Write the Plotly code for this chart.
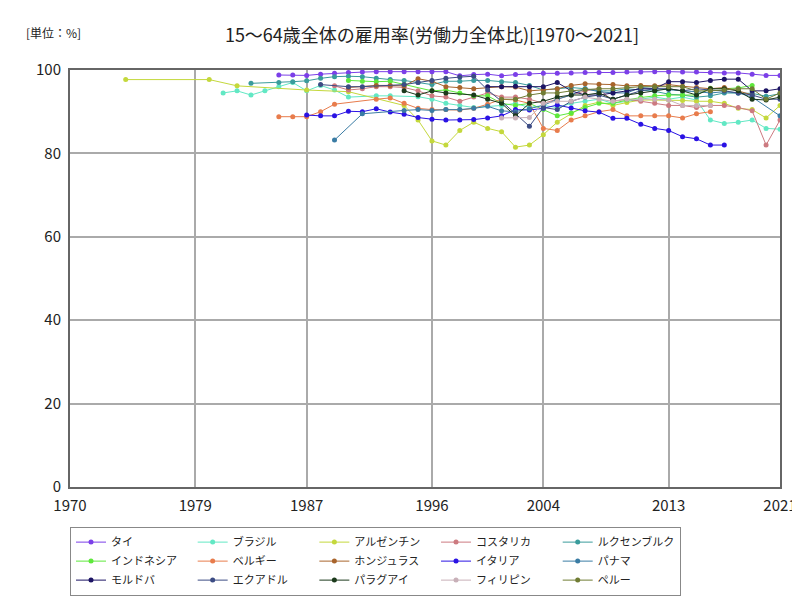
import plotly.graph_objects as go

# 15-64 employment rate (% of labour force)
thai_years = list(range(1985, 2022))
thai_vals = [98.8, 98.8, 98.7, 99.0, 99.2, 99.4, 99.5, 99.6, 99.6, 99.6, 99.6, 99.6, 99.6, 98.6, 98.9, 99.0, 98.6, 98.9,
             99.1, 99.2, 99.2, 99.3, 99.4, 99.4, 99.4, 99.5, 99.5, 99.6, 99.6, 99.5, 99.5, 99.4, 99.3, 99.3, 99.0, 98.7, 98.7]

brazil_years = [1981, 1982, 1983, 1984, 1985, 1986, 1987, 1988, 1989, 1990, 1992, 1993, 1995, 1996, 1997, 1998, 1999,
                2001, 2002, 2003, 2004, 2005, 2006, 2007, 2008, 2009, 2011, 2012, 2013, 2014, 2015, 2016, 2017, 2018, 2019, 2020, 2021]
brazil_vals = [94.5, 95.0, 94.0, 95.0, 96.0, 97.0, 95.0, 96.3, 95.2, 93.5, 93.8, 93.8, 93.6, 93.0, 92.0, 91.5, 91.0,
               91.5, 92.0, 91.0, 91.5, 91.0, 92.0, 92.5, 93.0, 92.0, 93.0, 93.5, 93.0, 93.5, 92.8, 88.0, 87.2, 87.5, 88.0, 86.0, 85.8]

argentina_years = [1974, 1980, 1982, 1987, 1990, 1994, 1995, 1996, 1997, 1998, 1999, 2000, 2001, 2002, 2003, 2004, 2005,
                   2006, 2007, 2008, 2009, 2010, 2011, 2012, 2013, 2014, 2015, 2016, 2017, 2018, 2019, 2020, 2021]
argentina_vals = [97.7, 97.7, 96.2, 95.2, 94.8, 91.5, 88.0, 83.0, 82.0, 85.5, 87.5, 86.0, 85.2, 81.5, 82.0, 84.5, 87.5,
                  89.5, 91.5, 92.3, 91.5, 92.2, 92.8, 92.8, 92.8, 92.7, 92.5, 92.5, 92.0, 90.8, 90.5, 88.5, 91.5]

costa_years = [1989, 1990, 1991, 1992, 1993, 1994, 1995, 1996, 1997, 1998, 1999, 2000, 2001, 2002, 2003, 2004, 2005, 2006,
               2007, 2008, 2009, 2010, 2011, 2012, 2013, 2014, 2015, 2016, 2017, 2018, 2019, 2020, 2021]
costa_vals = [96.2, 95.2, 95.5, 96.0, 96.0, 95.8, 95.0, 93.8, 93.5, 92.5, 93.5, 94.5, 93.5, 93.5, 93.0, 92.0, 93.0, 94.0,
              95.0, 95.5, 92.5, 93.0, 92.5, 92.0, 91.5, 91.5, 91.0, 91.5, 91.5, 91.0, 90.2, 82.0, 88.0]

lux_years = [1983, 1985, 1986, 1987, 1988, 1989, 1990, 1991, 1992, 1993, 1994, 1995, 1996, 1997, 1998, 1999, 2000,
             2001, 2002, 2003, 2004, 2005, 2006, 2007, 2008, 2009, 2010, 2011, 2012, 2013, 2014, 2015, 2016, 2017,
             2018, 2019, 2020, 2021]
lux_vals = [96.8, 97.0, 97.2, 97.4, 98.0, 98.4, 98.5, 98.4, 98.0, 97.7, 97.5, 97.0, 96.5, 97.3, 97.3, 97.5, 97.5,
            97.2, 97.0, 96.3, 95.2, 95.5, 95.8, 95.5, 95.0, 95.0, 95.5, 95.2, 94.9, 94.2, 94.0, 93.5, 93.8, 94.5,
            94.5, 94.4, 93.7, 94.3]

indo_years = [1990, 1991, 1992, 1993, 1994, 1996, 1997, 1998, 1999, 2000, 2001, 2002, 2003, 2004, 2005, 2006, 2007,
              2008, 2009, 2010, 2011, 2012, 2013, 2014, 2015, 2016, 2017, 2018, 2019]
indo_vals = [97.5, 97.3, 97.2, 97.3, 96.5, 95.0, 95.2, 94.5, 93.8, 93.8, 92.0, 91.5, 92.0, 90.5, 89.0, 89.7, 91.0,
             92.0, 92.0, 92.8, 93.4, 93.8, 94.0, 94.0, 94.0, 95.6, 95.5, 95.7, 96.3]

belgium_years = [1985, 1986, 1987, 1988, 1989, 1992, 1993, 1994, 1995, 1996, 1997, 1998, 1999, 2000, 2001, 2002, 2003,
                 2004, 2005, 2006, 2007, 2008, 2009, 2010, 2011, 2012, 2013, 2014, 2015, 2016]
belgium_vals = [88.8, 88.8, 88.8, 90.0, 91.8, 93.0, 93.3, 92.0, 90.8, 90.5, 90.5, 90.4, 90.8, 91.8, 93.0, 92.8, 92.0,
                86.0, 85.5, 88.0, 89.0, 90.0, 90.5, 89.0, 89.0, 89.0, 89.0, 88.5, 89.5, 90.0]

honduras_years = [1990, 1992, 1993, 1994, 1995, 1996, 1997, 1998, 1999, 2001, 2002, 2003, 2004, 2005, 2006, 2007,
                  2008, 2009, 2010, 2011, 2012, 2013, 2014, 2015, 2016, 2017, 2018, 2019]
honduras_vals = [95.8, 96.3, 96.3, 96.2, 97.9, 97.3, 96.0, 95.8, 95.5, 96.0, 95.9, 95.0, 95.2, 95.5, 96.3, 96.7,
                 96.6, 96.5, 96.2, 96.3, 96.2, 96.5, 96.1, 95.8, 95.5, 95.8, 95.0, 94.0]

italy_years = list(range(1987, 2018))
italy_vals = [89.2, 89.0, 89.0, 90.1, 90.0, 90.7, 89.9, 89.4, 88.6, 88.2, 88.0, 88.0, 88.1, 88.5, 89.0, 90.5, 90.4,
              90.8, 91.6, 90.9, 90.2, 89.9, 88.4, 88.4, 87.0, 86.0, 85.5, 84.0, 83.5, 82.0, 82.0]

panama_years = [1989, 1991, 1994, 1995, 1996, 1997, 1998, 1999, 2000, 2001, 2002, 2003, 2004, 2005, 2006, 2007, 2008,
                2009, 2010, 2011, 2012, 2013, 2014, 2015, 2016, 2017, 2018, 2019, 2021]
panama_vals = [83.2, 89.5, 90.3, 90.5, 90.3, 90.5, 90.5, 90.8, 91.3, 90.2, 90.0, 90.7, 91.5, 93.0, 94.0, 95.5, 94.8,
               94.5, 94.5, 95.8, 95.5, 95.3, 95.0, 94.8, 94.5, 94.8, 94.5, 93.5, 89.0]

moldova_years = list(range(2000, 2022))
moldova_vals = [96.0, 96.0, 96.1, 96.0, 96.0, 97.0, 95.0, 94.0, 94.0, 94.5, 95.0, 95.5, 95.5, 97.2, 97.2, 97.0, 97.5,
                97.8, 97.8, 95.0, 95.0, 95.5]

ecuador_years = [1988, 1990, 1991, 1994, 1995, 1996, 1997, 1998, 1999, 2000, 2001, 2002, 2003, 2004, 2005, 2006,
                 2007, 2008, 2009, 2010, 2011, 2012, 2013, 2014, 2015, 2016, 2017, 2018, 2019, 2020, 2021]
ecuador_vals = [96.5, 96.0, 96.0, 96.5, 97.0, 97.5, 98.0, 98.3, 98.5, 95.2, 92.5, 89.5, 86.5, 91.0, 90.5, 92.5,
                93.5, 94.0, 93.0, 94.0, 95.0, 95.5, 95.5, 95.0, 95.5, 95.2, 95.0, 94.5, 94.0, 93.0, 93.0]

paraguay_years = [1994, 1995, 1996, 1997, 1999, 2000, 2001, 2002, 2003, 2004, 2005, 2006, 2007, 2008, 2009, 2010,
                  2011, 2012, 2013, 2014, 2015, 2016, 2017, 2018, 2019, 2020, 2021]
paraguay_vals = [95.0, 94.0, 95.0, 94.5, 94.0, 93.0, 92.0, 89.0, 92.0, 92.5, 93.5, 94.0, 94.0, 94.5, 93.0, 94.0,
                 94.5, 95.0, 95.5, 95.0, 94.0, 95.5, 95.5, 95.0, 93.0, 92.8, 93.5]

phil_years = [2001, 2002, 2003, 2004, 2005, 2006, 2007, 2008, 2009, 2010, 2011, 2012, 2013, 2014, 2015, 2016]
phil_vals = [88.5, 88.5, 88.6, 92.0, 92.5, 92.5, 93.5, 93.0, 92.5, 93.0, 93.0, 93.0, 92.8, 91.5, 91.5, 91.5]

peru_years = [2001, 2002, 2003, 2004, 2005, 2006, 2007, 2008, 2009, 2010, 2011, 2012, 2013, 2014, 2015, 2016, 2017,
              2018, 2019, 2020, 2021]
peru_vals = [93.0, 93.0, 94.0, 94.5, 94.5, 95.0, 95.3, 95.5, 95.5, 95.8, 96.0, 96.0, 96.0, 96.0, 95.0, 95.0, 95.2,
             95.5, 95.5, 93.0, 94.5]

series = [
    ("タイ", thai_years, thai_vals, "#7b3fe8"),
    ("ブラジル", brazil_years, brazil_vals, "#62e8c4"),
    ("アルゼンチン", argentina_years, argentina_vals, "#c4d83c"),
    ("コスタリカ", costa_years, costa_vals, "#cc7a80"),
    ("ルクセンブルク", lux_years, lux_vals, "#3a9c9c"),
    ("インドネシア", indo_years, indo_vals, "#5ee83c"),
    ("ベルギー", belgium_years, belgium_vals, "#e87c4c"),
    ("ホンジュラス", honduras_years, honduras_vals, "#a8642c"),
    ("イタリア", italy_years, italy_vals, "#2a12e4"),
    ("パナマ", panama_years, panama_vals, "#3a7ca4"),
    ("モルドバ", moldova_years, moldova_vals, "#1c1464"),
    ("エクアドル", ecuador_years, ecuador_vals, "#3c4c84"),
    ("パラグアイ", paraguay_years, paraguay_vals, "#1c3a1c"),
    ("フィリピン", phil_years, phil_vals, "#c8b0b8"),
    ("ペルー", peru_years, peru_vals, "#707c34"),
]
x_ticks = [1970, 1979, 1987, 1996, 2004, 2013, 2021]

fig = go.Figure()
for name, xs, ys, col in series:
    fig.add_trace(go.Scatter(x=xs, y=ys, name=name, mode="lines+markers",
                             line=dict(color=col, width=1), marker=dict(color=col, size=5)))

FONT = "Noto Sans CJK JP"
fig.update_layout(
    width=800, height=600, plot_bgcolor="white", paper_bgcolor="white",
    font=dict(family=FONT, size=13, color="#222"),
    margin=dict(l=62, r=28, t=62, b=113),
    title=dict(text="15～64歳全体の雇用率(労働力全体比)[1970～2021]", x=0.53, xanchor="center", y=0.965,
               font=dict(size=18)),
    legend=dict(orientation="h", x=0.0, y=-0.095, xanchor="left", yanchor="top", bordercolor="#888",
                borderwidth=1, font=dict(size=11), itemwidth=30, tracegroupgap=0),
    showlegend=True,
    annotations=[dict(text="[単位：%]", xref="paper", yref="paper", x=-0.065, y=1.115, showarrow=False,
                      xanchor="left", font=dict(size=12))],
)
fig.update_xaxes(range=[1970, 2021], tickvals=x_ticks, showgrid=True, gridcolor="#aaa", gridwidth=1.5,
                 showline=True, linecolor="#666", linewidth=2, mirror=True, ticks="outside", ticklen=4,
                 tickcolor="white", zeroline=False, tickfont=dict(size=15))
fig.update_yaxes(range=[0, 100], tickvals=[0, 20, 40, 60, 80, 100], showgrid=True, gridcolor="#aaa", gridwidth=1.5,
                 showline=True, linecolor="#666", linewidth=2, mirror=True, ticks="outside", ticklen=4,
                 tickcolor="white", zeroline=False, tickfont=dict(size=15))
fig.write_html("out.html")
